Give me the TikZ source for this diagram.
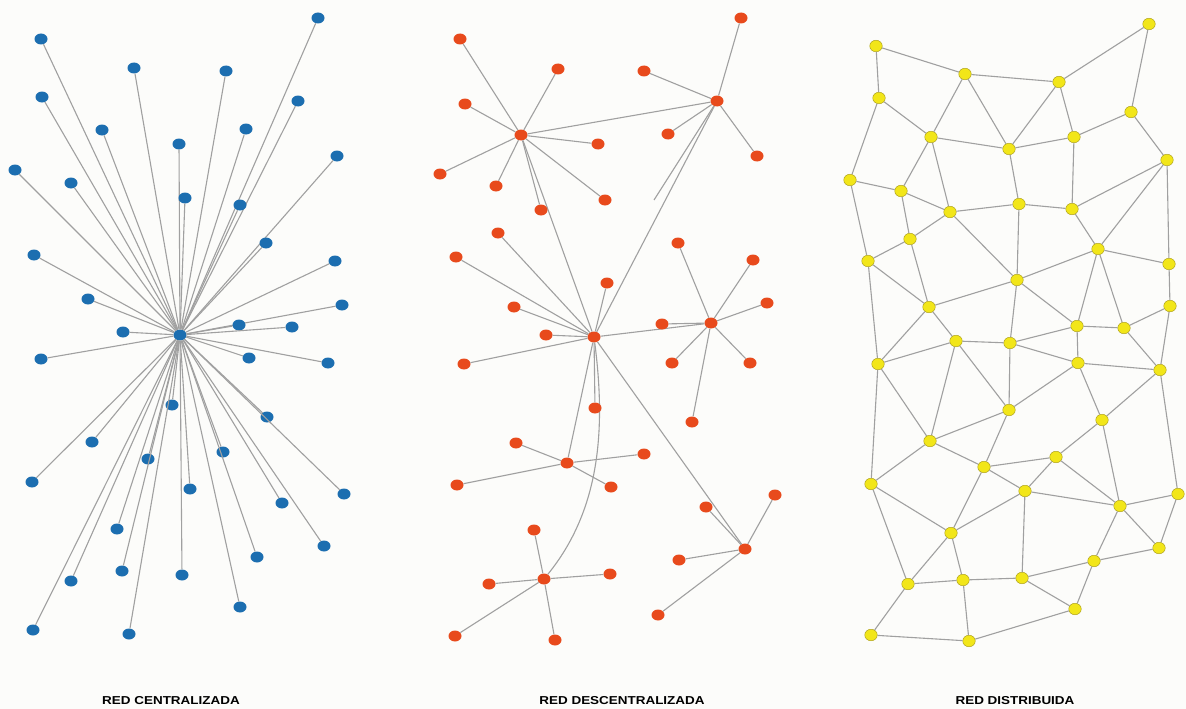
\documentclass[tikz,border=0pt]{standalone}
\usepackage{fontspec}
\setmainfont{Liberation Sans}
\usetikzlibrary{shapes.geometric}

\definecolor{cblue}{HTML}{1C6EB0}
\definecolor{dorange}{HTML}{E84A1C}
\definecolor{yfill}{HTML}{F2E619}
\definecolor{yline}{HTML}{AFA21E}
\definecolor{linkgray}{HTML}{A0A0A0}

\tikzset{
  link/.style={draw=linkgray, line width=1.1pt},
  cnode/.style={ellipse, fill=cblue, minimum width=13pt, minimum height=11pt, inner sep=0pt},
  dnode/.style={ellipse, fill=dorange, minimum width=13pt, minimum height=11pt, inner sep=0pt},
  ynode/.style={ellipse, fill=yfill, draw=yline, line width=0.5pt, minimum width=12.5pt, minimum height=11.5pt, inner sep=0pt},
  title/.style={font=\fontsize{11.5}{13}\selectfont\bfseries}
}

\begin{document}
\begin{tikzpicture}[x=1pt, y=-1pt]
        % Background
        \fill[fill={rgb,255:red,252;green,252;blue,250}] (0,0) rectangle (1186,709);
        \useasboundingbox (0,0) rectangle (1186,709);

        % Centralized network
        \node[cnode] (c0) at (180,335) {};
        \foreach \p [count=\i] in {(41,39),(134,68),(226,71),(318,18),(42,97),(298,101),(102,130),
            (179,144),(246,129),(15,170),(71,183),(337,156),(185,198),(240,205),(34,255),(266,243),
            (335,261),(88,299),(342,305),(123,332),(239,325),(292,327),(41,359),(249,358),(328,363),
            (172,405),(267,417),(92,442),(223,452),(148,459),(32,482),(190,489),(344,494),(282,503),
            (117,529),(324,546),(257,557),(122,571),(71,581),(182,575),(240,607),(33,630),(129,634)}
        {
            \node[cnode] (c\i) at \p {};
            \draw[link] (c0) -- (c\i);
        }

        % Decentralized network
        \node[dnode] (h1) at (521,135) {};
        \node[dnode] (h2) at (717,101) {};
        \node[dnode] (h3) at (594,337) {};
        \node[dnode] (h4) at (711,323) {};
        \node[dnode] (h5) at (567,463) {};
        \node[dnode] (h6) at (544,579) {};
        \node[dnode] (h7) at (745,549) {};
        \coordinate (h2end) at (654,200);
        \draw[link] (h1) -- (h2);
        \draw[link] (h1) -- (h3);
        \draw[link] (h2) -- (h3);
        \draw[link] (h2) -- (h2end);
        \draw[link] (h3) -- (h4);
        \draw[link] (h3) -- (h5);
        \draw[link] (h3) -- (h7);
        \draw[link] (h3) .. controls (606,430) and (600,510) .. (h6);
        \foreach \p [count=\i] in {(460,39),(558,69),(465,104),(598,144),(440,174),(496,186),(605,200),(541,210)}
            {\node[dnode] (h1l\i) at \p {}; \draw[link] (h1) -- (h1l\i);}
        \foreach \p [count=\i] in {(741,18),(644,71),(668,134),(757,156)}
            {\node[dnode] (h2l\i) at \p {}; \draw[link] (h2) -- (h2l\i);}
        \foreach \p [count=\i] in {(498,233),(456,257),(607,283),(514,307),(546,335),(464,364),(595,408)}
            {\node[dnode] (h3l\i) at \p {}; \draw[link] (h3) -- (h3l\i);}
        \foreach \p [count=\i] in {(678,243),(753,260),(767,303),(662,324),(672,363),(750,363),(692,422)}
            {\node[dnode] (h4l\i) at \p {}; \draw[link] (h4) -- (h4l\i);}
        \foreach \p [count=\i] in {(516,443),(644,454),(457,485),(611,487)}
            {\node[dnode] (h5l\i) at \p {}; \draw[link] (h5) -- (h5l\i);}
        \foreach \p [count=\i] in {(534,530),(489,584),(610,574),(455,636),(555,640)}
            {\node[dnode] (h6l\i) at \p {}; \draw[link] (h6) -- (h6l\i);}
        \foreach \p [count=\i] in {(706,507),(775,495),(679,560),(658,615)}
            {\node[dnode] (h7l\i) at \p {}; \draw[link] (h7) -- (h7l\i);}

        % Distributed network
        \foreach \p [count=\i] in {(1149,24),(876,46),(965,74),(1059,82),(879,98),(1131,112),(931,137),
            (1009,149),(1074,137),(1167,160),(850,180),(901,191),(950,212),(1019,204),(1072,209),
            (910,239),(1098,249),(868,261),(1169,264),(1017,280),(929,307),(1170,306),(1077,326),(1124,328)}
            \node[ynode] (a\i) at \p {};
        \foreach \p [count=\i] in {(956,341),(1010,343),(878,364),(1078,363),(1160,370),(1009,410),
            (1102,420),(930,441),(984,467),(1056,457),(871,484),(1025,491),(1178,494),(1120,506),
            (951,533),(1159,548),(1094,561),(908,584),(963,580),(1022,578),(1075,609),(871,635),(969,641)}
            \node[ynode] (b\i) at \p {};
        \foreach \u/\v in {a2/a3,a2/a5,a3/a4,a4/a1,a1/a6,a3/a7,a3/a8,a4/a8,a4/a9,a5/a7,a5/a11,a7/a8,
            a8/a9,a9/a6,a6/a10,a7/a12,a7/a13,a8/a14,a9/a15,a11/a12,a11/a18,a12/a13,a12/a16,a13/a14,
            a13/a20,a14/a15,a14/a20,a15/a10,a15/a17,a10/a17,a10/a19,a16/a13,a16/a18,a16/a21,a17/a19,
            a17/a20,a17/a23,a17/a24,a18/a21,a19/a22,a20/a21,a20/a23,a22/a24,a23/a24,
            a18/b3,a21/b3,a21/b1,a20/b2,a23/b4,a24/b5,a22/b5,
            b1/b2,b1/b3,b1/b8,b1/b6,b2/a23,b2/b4,b2/b6,b4/b5,b4/b6,b4/b7,b5/b7,b5/b13,b6/b8,b6/b9,
            b7/b10,b7/b14,b8/b3,b8/b9,b8/b11,b3/b11,b9/b10,b9/b12,b9/b15,b10/b12,b10/b14,b11/b15,
            b11/b18,b12/b14,b12/b15,b12/b20,b13/b14,b13/b16,b14/b16,b14/b17,b15/b18,b15/b19,b16/b17,
            b17/b20,b17/b21,b18/b19,b18/b22,b19/b20,b19/b23,b20/b21,b21/b23,b22/b23}
            \draw[link] (\u) -- (\v);

        % Titles
        \node[title] (tc) at (171,701) {\scalebox{1.17}[1]{RED CENTRALIZADA}};
        \node[title] (td) at (622,701) {\scalebox{1.17}[1]{RED DESCENTRALIZADA}};
        \node[title] (tr) at (1015,701) {\scalebox{1.17}[1]{RED DISTRIBUIDA}};
\end{tikzpicture}
\end{document}
